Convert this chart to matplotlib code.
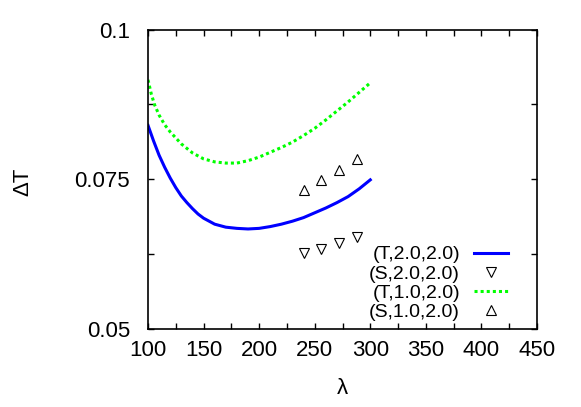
import matplotlib
matplotlib.use("Agg")
import matplotlib.pyplot as plt
from matplotlib.ticker import MultipleLocator, FixedLocator

plt.rcParams["font.family"] = ["Liberation Sans", "DejaVu Sans"]
plt.rcParams["font.size"] = 16

# curve data
lam_T2 = [100, 105, 110, 115, 120, 125, 130, 135, 140, 145, 150, 160, 170, 180, 190,
          200, 210, 220, 230, 240, 250, 260, 270, 280, 290, 300]
dT_T_2 = [0.0840, 0.0814, 0.0790, 0.0770, 0.0752, 0.0736, 0.0722, 0.0711, 0.0701, 0.0692,
          0.0685, 0.0675, 0.0670, 0.0668, 0.0667, 0.0668, 0.0671, 0.0675, 0.0680, 0.0686,
          0.0694, 0.0702, 0.0711, 0.0721, 0.0734, 0.0749]
lam_T1 = [100, 103, 106, 110, 115, 120, 130, 140, 150, 160, 170, 180, 190,
          200, 210, 220, 230, 240, 250, 260, 270, 280, 290, 300]
dT_T_1 = [0.0916, 0.0892, 0.0874, 0.0857, 0.0841, 0.0829, 0.0809, 0.0794, 0.0784, 0.0779,
          0.0777, 0.0777, 0.0781, 0.0787, 0.0795, 0.0803, 0.0812, 0.0823, 0.0835, 0.0849,
          0.0864, 0.0879, 0.0895, 0.0911]

# simulation points
lam_S = [240, 256, 272, 288]
dT_S_2 = [0.0627, 0.0634, 0.0644, 0.0654]
dT_S_1 = [0.0732, 0.0748, 0.0766, 0.0784]

fig = plt.figure(figsize=(5.81, 4.07), dpi=100)
ax = fig.add_axes([148 / 581, 78 / 407, 389 / 581, 299.5 / 407])

ax.plot(lam_T2, dT_T_2, color="#0000ff", lw=2.2, label="(T,2.0,2.0)")
ax.plot(lam_S, dT_S_2, ls="none", marker="v", ms=7, mfc="none", mec="black", mew=0.8,
        label="(S,2.0,2.0)")
ax.plot(lam_T1, dT_T_1, color="#00ff00", lw=2.2, ls=(0, (1, 1)), label="(T,1.0,2.0)")
ax.plot(lam_S, dT_S_1, ls="none", marker="^", ms=7, mfc="none", mec="black", mew=0.8,
        label="(S,1.0,2.0)")

ax.set_xlim(100, 450)
ax.set_ylim(0.05, 0.1)
ax.xaxis.set_major_locator(MultipleLocator(50))
ax.xaxis.set_minor_locator(MultipleLocator(25))
ax.set_yticks([0.05, 0.075, 0.1])
ax.set_yticklabels(["0.05", "0.075", "0.1"])
ax.yaxis.set_minor_locator(FixedLocator([0.0625, 0.0875]))
ax.tick_params(which="both", direction="in", top=True, right=True, length=4.5, width=1)
ax.tick_params(axis="y", pad=13)
ax.tick_params(axis="x", pad=8)
for s in ax.spines.values():
    s.set_linewidth(1.2)

fig.text(342.5 / 581, 1 - 389 / 407, "λ", ha="center", va="center", fontsize=16)
fig.text(23 / 581, 1 - 182 / 407, "ΔT", ha="center", va="center", rotation=90, fontsize=16)

ax.legend(loc="lower right", bbox_to_anchor=(0.9254, 0.027), frameon=False,
          markerfirst=False, numpoints=1, handlelength=1.75, handletextpad=0.72,
          borderpad=0, borderaxespad=0, labelspacing=0.08, fontsize=14)

fig.savefig("out.png", dpi=100)
